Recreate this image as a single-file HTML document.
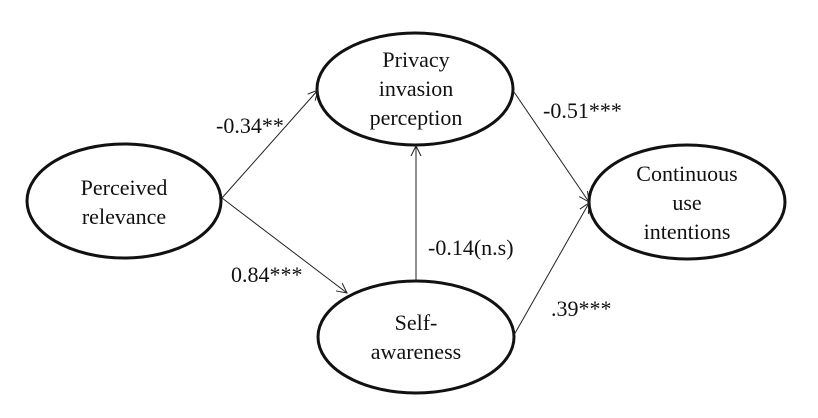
<!DOCTYPE html>
<html><head><style>html,body{margin:0;padding:0;background:#fff;}svg{display:block}text{font-family:"Liberation Serif","DejaVu Serif",serif;font-size:22px;}</style></head>
<body>
<svg width="818" height="418" viewBox="0 0 818 418" xmlns="http://www.w3.org/2000/svg" fill="#111">
<defs><marker id="a" markerWidth="12" markerHeight="12" refX="10" refY="6" orient="auto" markerUnits="userSpaceOnUse"><path d="M0,1 L10,6 L0,11" fill="none" stroke="#222" stroke-width="1"/></marker></defs>
<g fill="none" stroke="#111" stroke-width="3">
<ellipse cx="124" cy="201" rx="97" ry="57"/>
<ellipse cx="415" cy="89" rx="98" ry="56"/>
<ellipse cx="416" cy="337" rx="98" ry="56"/>
<ellipse cx="687" cy="202" rx="98" ry="57"/>
</g>
<g stroke="#222" stroke-width="1" fill="none">
<line x1="222" y1="198" x2="318" y2="90" marker-end="url(#a)"/>
<line x1="222" y1="198" x2="347" y2="293" marker-end="url(#a)"/>
<line x1="416" y1="281" x2="416" y2="146" marker-end="url(#a)"/>
<line x1="514" y1="92" x2="589" y2="202" marker-end="url(#a)"/>
<line x1="514" y1="335" x2="589" y2="203" marker-end="url(#a)"/>
</g>
<g text-anchor="middle">
<text x="416" y="67">Privacy</text><text x="416" y="96">invasion</text><text x="416" y="125">perception</text>
<text x="124" y="195">Perceived</text><text x="124" y="224">relevance</text>
<text x="687" y="181">Continuous</text><text x="687" y="210">use</text><text x="687" y="239">intentions</text>
<text x="416" y="330">Self-</text><text x="416" y="359">awareness</text>
</g>
<text x="216" y="133">-0.34**</text>
<text x="543" y="118">-0.51***</text>
<text x="231" y="282">0.84***</text>
<text x="428" y="255">-0.14(n.s)</text>
<text x="551" y="316">.39***</text>
</svg>
</body></html>
